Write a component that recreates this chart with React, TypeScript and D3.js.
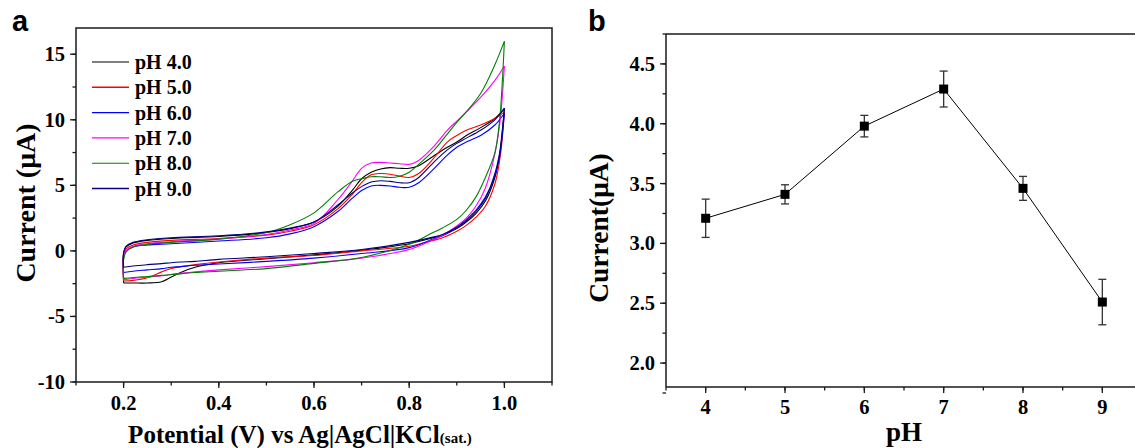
import React from "react";
import * as d3 from "d3";

const WIDTH = 1135;
const HEIGHT = 448;

// ---------- Panel a: cyclic voltammograms at different pH ----------
const phLabels = ["pH 4.0", "pH 5.0", "pH 6.0", "pH 7.0", "pH 8.0", "pH 9.0"];
const cvColors = ["#000000", "#ff0000", "#0000ff", "#ff00ff", "#008000", "#000080"];

// Anodic sweep potentials (V); the first point is the end of the previous cathodic sweep
const forwardPotential = [0.2, 0.2, 0.205, 0.22, 0.25, 0.3, 0.4, 0.5, 0.55, 0.6, 0.65, 0.68, 0.7, 0.72, 0.74, 0.76, 0.78, 0.8, 0.82, 0.85, 0.88, 0.9, 0.92, 0.95, 0.98, 1.0];
// Cathodic sweep potentials (V)
const reversePotential = [1.0, 0.995, 0.99, 0.98, 0.96, 0.94, 0.92, 0.9, 0.87, 0.85, 0.8, 0.7, 0.6, 0.5, 0.4, 0.35, 0.32, 0.3, 0.28, 0.25, 0.22, 0.2];

// Currents (µA) on the anodic sweep
const fwdPH4 = [-2.45, -0.2, 0.3, 0.6, 0.8, 0.95, 1.1, 1.4, 1.7, 2.2, 3.4, 4.6, 5.5, 6.0, 6.25, 6.35, 6.3, 6.3, 6.5, 7.2, 7.9, 8.3, 8.8, 9.4, 10.1, 10.85];
const fwdPH5 = [-2.3, -0.3, 0.15, 0.45, 0.65, 0.8, 0.95, 1.2, 1.5, 2.0, 3.2, 4.3, 5.2, 5.8, 5.9, 5.85, 5.7, 5.6, 5.9, 7.0, 8.3, 8.8, 9.2, 9.6, 10.1, 10.6];
const fwdPH6 = [-1.65, -0.4, 0.0, 0.3, 0.45, 0.55, 0.75, 1.0, 1.3, 1.85, 3.0, 4.0, 4.6, 4.95, 5.0, 4.95, 4.85, 4.85, 5.2, 6.2, 7.3, 7.9, 8.3, 8.8, 9.6, 10.5];
const fwdPH7 = [-2.2, -0.5, 0.0, 0.35, 0.55, 0.7, 0.9, 1.25, 1.6, 2.1, 3.9, 5.3, 6.3, 6.7, 6.75, 6.7, 6.65, 6.6, 6.9, 7.9, 9.2, 9.9, 10.6, 11.7, 13.0, 14.1];
const fwdPH8 = [-2.1, -0.7, -0.1, 0.3, 0.5, 0.65, 0.9, 1.4, 2.0, 2.9, 4.5, 5.3, 5.5, 5.65, 5.65, 5.6, 5.7, 6.0, 6.6, 7.6, 8.9, 9.8, 10.6, 12.0, 14.2, 16.0];
const fwdPH9 = [-1.25, -0.1, 0.35, 0.65, 0.85, 1.0, 1.15, 1.45, 1.75, 2.2, 3.5, 4.4, 4.9, 5.25, 5.35, 5.3, 5.2, 5.2, 5.6, 6.7, 7.7, 8.2, 8.6, 9.2, 10.0, 10.9];

// Currents (µA) on the cathodic sweep
const revPH4 = [10.85, 8.8, 7.3, 5.6, 3.8, 2.85, 2.2, 1.7, 1.2, 1.0, 0.55, 0.05, -0.3, -0.6, -0.9, -1.25, -1.65, -2.0, -2.35, -2.45, -2.45, -2.45];
const revPH5 = [10.6, 8.4, 6.9, 5.1, 3.4, 2.55, 1.95, 1.5, 1.0, 0.8, 0.35, 0.0, -0.35, -0.55, -0.85, -1.05, -1.2, -1.35, -1.6, -2.05, -2.25, -2.3];
const revPH6 = [10.5, 8.6, 7.2, 5.7, 4.1, 3.1, 2.4, 1.8, 1.15, 0.9, 0.25, -0.2, -0.55, -0.8, -1.0, -1.1, -1.2, -1.25, -1.35, -1.45, -1.55, -1.65];
const revPH7 = [14.1, 11.5, 9.6, 7.4, 4.8, 3.4, 2.5, 1.9, 1.2, 0.85, 0.1, -0.55, -0.9, -1.2, -1.45, -1.6, -1.7, -1.8, -1.9, -2.0, -2.1, -2.2];
const revPH8 = [16.0, 12.5, 10.0, 7.5, 5.6, 4.1, 3.1, 2.4, 1.75, 1.4, 0.5, -0.5, -0.95, -1.35, -1.55, -1.65, -1.75, -1.8, -1.87, -1.95, -2.03, -2.1];
const revPH9 = [10.9, 9.0, 7.5, 5.9, 4.0, 3.0, 2.3, 1.8, 1.25, 1.05, 0.65, 0.1, -0.2, -0.45, -0.65, -0.8, -0.85, -0.9, -0.97, -1.05, -1.15, -1.25];

const forwardSweeps = [fwdPH4, fwdPH5, fwdPH6, fwdPH7, fwdPH8, fwdPH9];
const reverseSweeps = [revPH4, revPH5, revPH6, revPH7, revPH8, revPH9];

const cvXTicks = [0.2, 0.4, 0.6, 0.8, 1.0];
const cvXTickLabels = ["0.2", "0.4", "0.6", "0.8", "1.0"];
const cvYTicks = [-10, -5, 0, 5, 10, 15];
const cvYTickLabels = ["-10", "-5", "0", "5", "10", "15"];

// ---------- Panel b: peak current vs pH ----------
const phValues = [4, 5, 6, 7, 8, 9];
const peakCurrent = [3.21, 3.41, 3.98, 4.29, 3.46, 2.51];
const currentError = [0.16, 0.08, 0.09, 0.15, 0.1, 0.19];

const phTicks = [4, 5, 6, 7, 8, 9];
const phTickLabels = ["4", "5", "6", "7", "8", "9"];
const currentTicks = [2.0, 2.5, 3.0, 3.5, 4.0, 4.5];
const currentTickLabels = ["2.0", "2.5", "3.0", "3.5", "4.0", "4.5"];

const SERIF = "'Liberation Serif', 'Times New Roman', serif";
const SANS = "'Liberation Sans', Arial, sans-serif";

export default function App() {
  // Panel a frame and scales
  const aL = 76, aR = 552, aT = 28, aB = 382;
  const xA = d3.scaleLinear().domain([0.1, 1.1]).range([aL, aR]);
  const yA = d3.scaleLinear().domain([-10, 17]).range([aB, aT]);

  // Panel b frame and scales
  const bL = 666, bR = 1142, bT = 34, bB = 387;
  const xB = d3.scaleLinear().domain([3.5, 9.5]).range([bL, bR]);
  const yB = d3.scaleLinear().domain([1.8, 4.75]).range([bB, bT]);

  const cvLine = d3
    .line<[number, number]>()
    .x((d) => xA(d[0]))
    .y((d) => yA(d[1]))
    .curve(d3.curveCatmullRom.alpha(0.5));

  const cvPaths = forwardSweeps.map((fwd, i) => {
    const f = forwardPotential.map((v, j) => [v, fwd[j]] as [number, number]);
    const r = reversePotential.map((v, j) => [v, reverseSweeps[i][j]] as [number, number]);
    return (cvLine(f) || "") + (cvLine(r) || "");
  });

  const phLine = d3
    .line<number>()
    .x((_, i) => xB(phValues[i]))
    .y((d) => yB(d));

  const cvXMinor = d3.range(0.1, 1.101, 0.1);
  const cvYMinor = d3.range(-10, 17.01, 2.5);
  const phMinor = d3.range(3.5, 9.51, 0.5);
  const curMinor = d3.range(1.75, 4.76, 0.25);

  const axisColor = "#1a1a1a";

  return (
    <svg
      width={WIDTH}
      height={HEIGHT}
      viewBox={`0 0 ${WIDTH} ${HEIGHT}`}
      style={{ position: "absolute", left: 0, top: 0, background: "#fff" }}
    >
      <rect x={0} y={0} width={WIDTH} height={HEIGHT} fill="#fff" />

      {/* ---------------- Panel a ---------------- */}
      <text x={12} y={31} fontFamily={SANS} fontWeight="bold" fontSize={29}>a</text>

      {/* curves */}
      <g fill="none" strokeWidth={1.1} strokeLinejoin="round">
        {cvPaths.map((d, i) => (
          <path key={i} d={d} stroke={cvColors[i]} />
        ))}
      </g>

      {/* frame */}
      <rect x={aL} y={aT} width={aR - aL} height={aB - aT} fill="none" stroke={axisColor} strokeWidth={1.5} />

      {/* ticks */}
      <g stroke={axisColor} strokeWidth={1.3}>
        {cvXMinor.map((v, i) => (
          <line key={"xm" + i} x1={xA(v)} x2={xA(v)} y1={aB} y2={aB + 3.5} />
        ))}
        {cvXTicks.map((v, i) => (
          <line key={"xM" + i} x1={xA(v)} x2={xA(v)} y1={aB} y2={aB + 6} />
        ))}
        {cvYMinor.map((v, i) => (
          <line key={"ym" + i} x1={aL} x2={aL - 3.5} y1={yA(v)} y2={yA(v)} />
        ))}
        {cvYTicks.map((v, i) => (
          <line key={"yM" + i} x1={aL} x2={aL - 6} y1={yA(v)} y2={yA(v)} />
        ))}
      </g>
      <g fontFamily={SERIF} fontWeight="bold" fontSize={20.5} fill="#000">
        {cvXTicks.map((v, i) => (
          <text key={i} x={xA(v)} y={aB + 28} textAnchor="middle">{cvXTickLabels[i]}</text>
        ))}
        {cvYTicks.map((v, i) => (
          <text key={i} x={aL - 11} y={yA(v) + 7} textAnchor="end">{cvYTickLabels[i]}</text>
        ))}
      </g>

      {/* axis titles */}
      <text x={300} y={443} textAnchor="middle" fontFamily={SERIF} fontWeight="bold" fontSize={25}>
        Potential (V) vs Ag|AgCl|KCl<tspan fontSize={15}>(sat.)</tspan>
      </text>
      <text
        transform={`translate(35, 203) rotate(-90)`}
        textAnchor="middle"
        fontFamily={SERIF}
        fontWeight="bold"
        fontSize={28}
      >
        Current (μA)
      </text>

      {/* legend */}
      <g fontFamily={SERIF} fontWeight="bold" fontSize={20}>
        {phLabels.map((lab, i) => (
          <g key={i} transform={`translate(0, ${62 + i * 25.3})`}>
            <line x1={92} x2={129} y1={0} y2={0} stroke={cvColors[i]} strokeWidth={i === 1 || i === 5 ? 1.6 : 1.1} />
            <text x={135} y={7}>{lab}</text>
          </g>
        ))}
      </g>

      {/* ---------------- Panel b ---------------- */}
      <text x={588} y={31} fontFamily={SANS} fontWeight="bold" fontSize={29}>b</text>

      {/* frame */}
      <g stroke={axisColor} strokeWidth={1.5} fill="none">
        <line x1={bL} x2={bL} y1={bT} y2={bB} />
        <line x1={bL} x2={bR} y1={bT} y2={bT} />
        <line x1={bL} x2={bR} y1={bB} y2={bB} />
        <line x1={bR} x2={bR} y1={bT} y2={bB} />
      </g>
      <g stroke={axisColor} strokeWidth={1.3}>
        {phMinor.map((v, i) => (
          <line key={"pm" + i} x1={xB(v)} x2={xB(v)} y1={bB} y2={bB + 3.5} />
        ))}
        {phTicks.map((v, i) => (
          <line key={"pM" + i} x1={xB(v)} x2={xB(v)} y1={bB} y2={bB + 6} />
        ))}
        {curMinor.map((v, i) => (
          <line key={"cm" + i} x1={bL} x2={bL - 3.5} y1={yB(v)} y2={yB(v)} />
        ))}
        {currentTicks.map((v, i) => (
          <line key={"cM" + i} x1={bL} x2={bL - 6} y1={yB(v)} y2={yB(v)} />
        ))}
      </g>
      <g fontFamily={SERIF} fontWeight="bold" fontSize={20.5} fill="#000">
        {phTicks.map((v, i) => (
          <text key={i} x={xB(v)} y={bB + 27} textAnchor="middle">{phTickLabels[i]}</text>
        ))}
        {currentTicks.map((v, i) => (
          <text key={i} x={bL - 11} y={yB(v) + 7} textAnchor="end">{currentTickLabels[i]}</text>
        ))}
      </g>

      <text x={xB(6.5)} y={441} textAnchor="middle" fontFamily={SERIF} fontWeight="bold" fontSize={27}>pH</text>
      <text
        transform={`translate(608, 228) rotate(-90)`}
        textAnchor="middle"
        fontFamily={SERIF}
        fontWeight="bold"
        fontSize={27.5}
      >
        Current(μA)
      </text>

      {/* connecting line */}
      <path d={phLine(peakCurrent) || ""} fill="none" stroke="#000" strokeWidth={1} />

      {/* error bars */}
      <g stroke="#333" strokeWidth={1.3}>
        {phValues.map((p, i) => {
          const x = xB(p);
          const y1 = yB(peakCurrent[i] + currentError[i]);
          const y2 = yB(peakCurrent[i] - currentError[i]);
          return (
            <g key={i}>
              <line x1={x} x2={x} y1={y1} y2={y2} />
              <line x1={x - 4} x2={x + 4} y1={y1} y2={y1} />
              <line x1={x - 4} x2={x + 4} y1={y2} y2={y2} />
            </g>
          );
        })}
      </g>

      {/* markers */}
      <g fill="#000">
        {phValues.map((p, i) => (
          <rect key={i} x={xB(p) - 4.5} y={yB(peakCurrent[i]) - 4.5} width={9} height={9} />
        ))}
      </g>
    </svg>
  );
}
